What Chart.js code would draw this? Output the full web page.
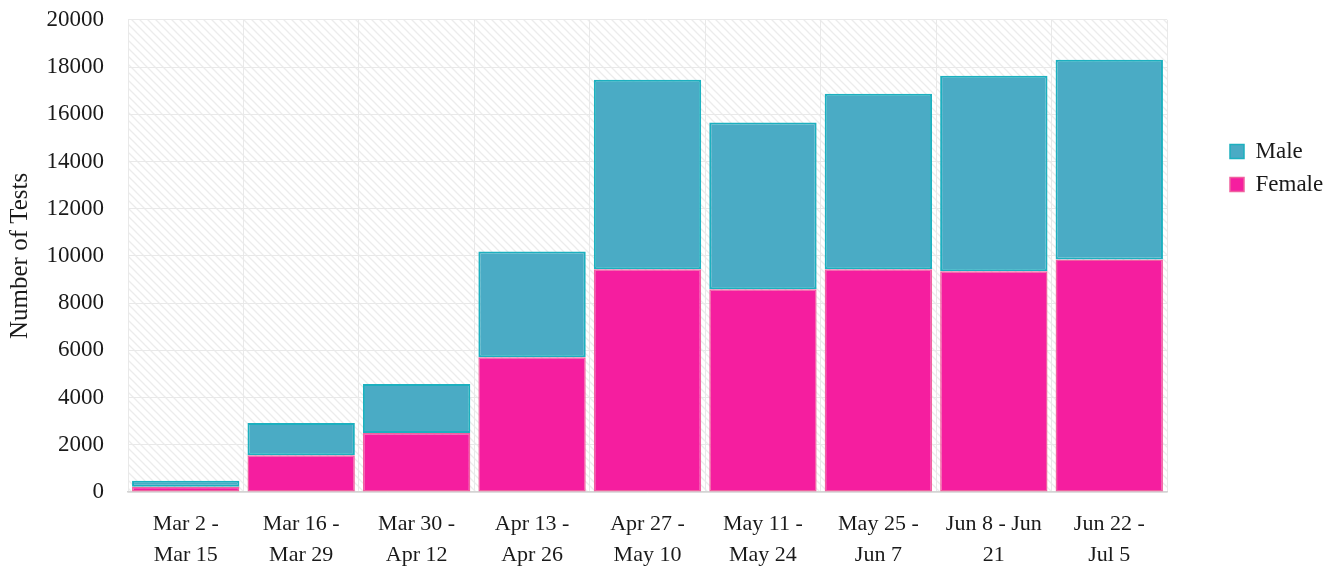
<!DOCTYPE html>
<html>
<head>
<meta charset="utf-8">
<style>
  html, body { margin: 0; padding: 0; background: #ffffff; }
  #wrap { width: 1340px; height: 571px; position: relative; }
</style>
<script src="https://cdn.jsdelivr.net/npm/chart.js@4.4.1/dist/chart.umd.min.js"></script>
</head>
<body>
<div id="wrap"><canvas id="c" width="1340" height="571"></canvas></div>
<script>
const categories = [
  ["Mar 2 -", "Mar 15"],
  ["Mar 16 -", "Mar 29"],
  ["Mar 30 -", "Apr 12"],
  ["Apr 13 -", "Apr 26"],
  ["Apr 27 -", "May 10"],
  ["May 11 -", "May 24"],
  ["May 25 -", "Jun 7"],
  ["Jun 8 - Jun", "21"],
  ["Jun 22 -", "Jul 5"]
];
const femaleValues = [220, 1560, 2500, 5710, 9430, 8590, 9430, 9350, 9850];
const maleValues   = [260, 1360, 2070, 4480, 8030, 7060, 7440, 8280, 8460];
const yTickMax = 20000;
const yTickStep = 2000;

const FONT = "'Liberation Serif', 'Times New Roman', serif";
const TEXT = '#1a1a1a';

const hatchPlugin = {
  id: 'hatch',
  beforeDraw(chart) {
    const {ctx, chartArea: a} = chart;
    const p = document.createElement('canvas');
    p.width = 8; p.height = 8;
    const pc = p.getContext('2d');
    pc.fillStyle = '#ffffff';
    pc.fillRect(0, 0, 8, 8);
    pc.strokeStyle = '#ececec';
    pc.lineWidth = 1.3;
    pc.beginPath();
    pc.moveTo(0, 0); pc.lineTo(8, 8);
    pc.moveTo(-4, 4); pc.lineTo(4, 12);
    pc.moveTo(4, -4); pc.lineTo(12, 4);
    pc.stroke();
    ctx.save();
    ctx.fillStyle = ctx.createPattern(p, 'repeat');
    ctx.fillRect(a.left, a.top, a.right - a.left, a.bottom - a.top);
    ctx.restore();
  }
};

const legendFitPlugin = {
  id: 'legendFit',
  afterInit(chart) {
    const lg = chart.legend;
    if (lg && !lg._patched) {
      const orig = lg.fit.bind(lg);
      lg.fit = function() { orig(); this.width = 120; };
      lg._patched = true;
    }
  }
};

new Chart(document.getElementById('c'), {
  type: 'bar',
  data: {
    labels: categories,
    datasets: [
      {
        label: 'Female',
        data: femaleValues,
        backgroundColor: '#f51e9f',
        borderColor: '#f0619f',
        borderWidth: 1.5,
        borderSkipped: false,
        categoryPercentage: 1.0,
        barPercentage: 0.93
      },
      {
        label: 'Male',
        data: maleValues,
        backgroundColor: '#4aabc5',
        borderColor: '#1cb0bf',
        borderWidth: 2,
        borderSkipped: false,
        categoryPercentage: 1.0,
        barPercentage: 0.93
      }
    ]
  },
  plugins: [hatchPlugin, legendFitPlugin],
  options: {
    responsive: false,
    animation: false,
    layout: { padding: { top: 0, right: 0, bottom: 0, left: 0 } },
    plugins: {
      tooltip: { enabled: false },
      legend: {
        position: 'right',
        align: 'start',
        reverse: true,
        title: { display: true, text: ' ', font: { size: 10, lineHeight: 1 }, padding: { top: 120, bottom: 0 } },
        labels: {
          boxWidth: 14,
          boxHeight: 14,
          padding: 10,
          color: TEXT,
          font: { family: FONT, size: 23 },
          generateLabels(chart) {
            return chart.data.datasets.map((ds, i) => ({
              text: ds.label,
              fillStyle: ds.backgroundColor,
              strokeStyle: ds.borderColor,
              fontColor: TEXT,
              lineWidth: 1.5,
              datasetIndex: i,
              hidden: false
            }));
          }
        }
      }
    },
    scales: {
      x: {
        stacked: true,
        grid: { color: '#e9e9e9', lineWidth: 1, drawTicks: false, offset: true },
        border: { color: '#d4d4d4', width: 1.5 },
        ticks: { color: TEXT, font: { family: FONT, size: 22, lineHeight: 1.4 }, padding: 17, maxRotation: 0, autoSkip: false },
        afterFit(scale) { scale.height = 79; }
      },
      y: {
        stacked: true,
        min: 0,
        max: yTickMax,
        grid: { color: '#e9e9e9', lineWidth: 1, drawTicks: true, tickLength: 18, tickColor: 'rgba(0,0,0,0)' },
        border: { display: false },
        ticks: {
          stepSize: yTickStep,
          color: TEXT,
          font: { family: FONT, size: 23 },
          padding: 6,
          callback: (v) => String(v)
        },
        title: { display: true, text: 'Number of Tests', color: TEXT, font: { family: FONT, size: 25 }, padding: { top: 5, bottom: 4 } },
        afterFit(scale) { scale.width = 128; }
      },
      spacer: {
        type: 'linear',
        position: 'right',
        display: true,
        grid: { display: false, drawTicks: false },
        border: { display: false },
        ticks: { display: false },
        afterFit(scale) { scale.width = 53; }
      }
    }
  }
});
</script>
</body>
</html>
